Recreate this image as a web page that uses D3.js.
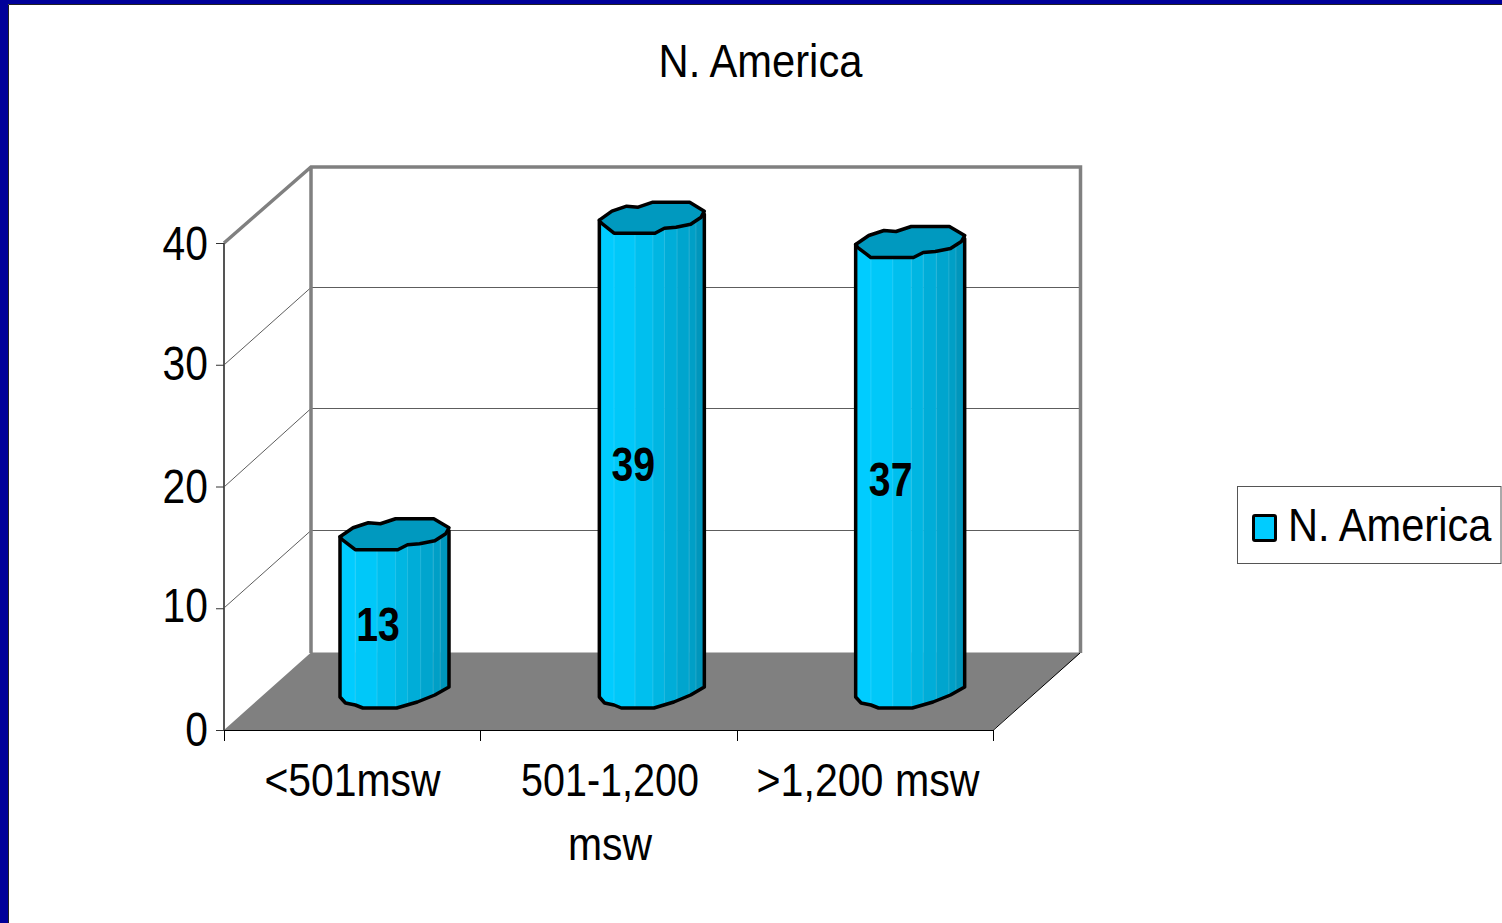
<!DOCTYPE html>
<html><head><meta charset="utf-8">
<script src="https://cdn.jsdelivr.net/npm/d3@7/dist/d3.min.js"></script>
<style>html,body{margin:0;padding:0;background:#fff}svg{display:block}text{font-family:"Liberation Sans",Arial,sans-serif;fill:#000}</style>
</head><body><svg id="c" width="1502" height="923"></svg>
<script>
const titleText = "N. America";
const categories = ["<501msw", "501-1,200 msw", ">1,200 msw"];
const categoryLines = [["<501msw"], ["501-1,200", "msw"], [">1,200 msw"]];
const seriesName = "N. America";
const values = [13, 39, 37];
const yTicks = [0, 10, 20, 30, 40];

// Layout
const W = 1502, H = 923, FS = 47, SX = 0.865;
const plot = {left: 224, right: 993, y0: 730, y40: 243, dx: 88, dy: 77};
const barInset = [[116, 225], [119, 224], [119, 228]]; // left/right edges inside each band
const barBottomY = 22; // bar front is set forward from the axis baseline
const BLUE = "#000099", GREY = "#808080", CYAN = "#00CCFF", CAP = "#0099BF";

// Irregular low-poly cylinder outline, fractions of bar width, px offsets from the front rim
const capOutline = [[0,-13],[.12,-22],[.26,-27],[.37,-26],[.51,-31],[.86,-31],[1,-22],[.97,-16],[.87,-9],[.73,-6],[.62,-5],[.53,0],[.14,0],[.02,-10]];
const bottomOutline = [[1,-21],[.87,-13],[.71,-6],[.52,0],[.21,0],[.14,-3],[.05,-5],[0,-11]];
const facets = [[0,.14,"#00CCFF"],[.14,.34,"#00C8F9"],[.34,.51,"#00BFEE"],[.51,.62,"#00B6E2"],[.62,.74,"#00ADD8"],[.74,.855,"#00A5CE"],[.855,.92,"#009FC6"],[.92,1,"#0096BC"]];

const svg = d3.select("#c");
svg.append("rect").attr("width", W).attr("height", H).attr("fill", BLUE);
svg.append("rect").attr("x", 8).attr("y", 4).attr("width", W - 8).attr("height", H - 4).attr("fill", "#fff");
svg.append("path").attr("d", "M8.5,923V4.5H1502").attr("fill", "none").attr("stroke", "#222").attr("stroke-width", 1);

const x = d3.scaleBand().domain(categories).range([plot.left, plot.right]);
const y = d3.scaleLinear().domain([0, 40]).range([plot.y0, plot.y40]);
const L = plot.left, R = plot.right, dx = plot.dx, dy = plot.dy;

// Floor
svg.append("path").attr("fill", GREY)
  .attr("d", `M${L},${y(0)}L${L+dx-1},${y(0)-dy-.5}H${R+dx}L${R},${y(0)}Z`);

// Gridlines on back and side walls
const grid = svg.append("g").attr("stroke", "#333").attr("stroke-width", .8).attr("fill", "none");
yTicks.filter(t => t > 0 && t < 40).forEach(t => {
  const yy = Math.round(y(t));
  grid.append("path").attr("d", `M${L},${yy}L${L+dx-1},${yy-dy-.5+(t===20?-1:0)}H${R+dx}`);
});

// Walls
svg.append("path").attr("fill", "none").attr("stroke", GREY).attr("stroke-width", 3.5)
  .attr("d", `M${L},${y(40)}L${L+dx-1},${y(40)-dy+1}H${R+dx-.5}V${y(0)-dy}M${L+dx-1},${y(40)-dy}V${y(0)-dy}`);
svg.append("path").attr("fill", "none").attr("stroke", "#555").attr("stroke-width", 2)
  .attr("d", `M${L},${y(40)}V${y(0)}`);
svg.append("path").attr("fill", "none").attr("stroke", "#000").attr("stroke-width", 1)
  .attr("d", `M${L},${y(0)+.5}H${R}L${R+dx-1},${y(0)-dy}`);

// Axes
function sq(sel, tx, ty, sx) { return sel.attr("transform", `translate(${tx},${ty}) scale(${sx || SX},1)`); }
const yAxis = svg.append("g").attr("transform", `translate(${L},0)`)
  .call(d3.axisLeft(y).tickValues(yTicks).tickSize(8).tickPadding(0));
yAxis.select(".domain").remove();
yAxis.selectAll("line").attr("stroke", "#333");
const tickNudge = [-1, -3, 0, -1, 0];
yAxis.selectAll("text").attr("font-size", FS + 1).attr("text-anchor", "end").attr("dy", null).attr("x", 0).attr("y", 0)
  .each(function(d, i){ sq(d3.select(this), -16, 16 + tickNudge[i], 0.85); });

const xAxis = svg.append("g").attr("transform", `translate(0,${y(0)})`)
  .call(d3.axisBottom(x).tickSize(0).tickFormat(""));
xAxis.select(".domain").remove();
xAxis.selectAll(".tick").remove();
const edges = categories.map(c => x(c)).concat([R]);
svg.append("g").selectAll("line").data(edges).join("line")
  .attr("x1", d => Math.round(d) + .5).attr("x2", d => Math.round(d) + .5)
  .attr("y1", y(0)).attr("y2", y(0) + 11).attr("stroke", "#000");

const labelCentres = [352.5, 610, 868], labelBase = 796, labelLead = 64;
const labelSX = [[0.87], [0.84, 0.87], [0.875]];
categoryLines.forEach((lines, i) => lines.forEach((s, j) => {
  sq(svg.append("text").attr("font-size", FS).attr("text-anchor", "middle").text(s), labelCentres[i], labelBase + j * labelLead, labelSX[i][j]);
}));

// Bars
const defs = svg.append("defs");
const bars = categories.map((c, i) => {
  const xl = x(c) + barInset[i][0], xr = x(c) + barInset[i][1];
  return {c, i, v: values[i], xl, w: xr - xl, top: y(values[i]) - barBottomY, bot: y(0) - barBottomY};
});
const pts = (arr, b, base) => arr.map(p => [b.xl + p[0] * b.w, base + p[1]]);
const line = d3.line();
bars.forEach(b => {
  const capPts = pts(capOutline, b, b.top);
  const rightTop = [b.xl + b.w, b.top - 19];
  const body = [[b.xl, b.top - 13], rightTop, ...pts(bottomOutline, b, b.bot)];
  const g = svg.append("g");
  const id = "clip" + b.i;
  defs.append("clipPath").attr("id", id).append("path").attr("d", line(body) + "Z");
  const fg = g.append("g").attr("clip-path", `url(#${id})`);
  fg.selectAll("rect").data(facets).join("rect")
    .attr("x", f => b.xl + f[0] * b.w).attr("width", f => (f[1] - f[0]) * b.w + .5)
    .attr("y", b.top - 35).attr("height", b.bot - b.top + 40).attr("fill", f => f[2]);
  fg.selectAll("line").data(facets.slice(1)).join("line")
    .attr("x1", f => b.xl + f[0] * b.w).attr("x2", f => b.xl + f[0] * b.w)
    .attr("y1", b.top - 35).attr("y2", b.bot + 5).attr("stroke", "#fff").attr("stroke-opacity", .14);
  g.append("path").attr("d", line(body) + "Z").attr("fill", "none").attr("stroke", "#000").attr("stroke-width", 3.5).attr("stroke-linejoin", "round");
  g.append("path").attr("d", line(capPts) + "Z").attr("fill", CAP).attr("stroke", "#000").attr("stroke-width", 3.5).attr("stroke-linejoin", "round");
});

// Data labels
const labelDX = [38, 34, 35], labelDY = [-10, -12, -9];
bars.forEach(b => {
  sq(svg.append("text").attr("font-size", 49).attr("font-weight", "bold").attr("text-anchor", "middle").text(b.v),
     b.xl + labelDX[b.i], y(b.v / 2) + labelDY[b.i], 0.8);
});

// Title
sq(svg.append("text").attr("font-size", FS).attr("text-anchor", "middle").text(titleText), 760.5, 77, 0.887);

// Legend
svg.append("rect").attr("x", 1237.5).attr("y", 486.5).attr("width", 263.5).attr("height", 77).attr("fill", "#fff").attr("stroke", "#555");
svg.append("rect").attr("x", 1253.5).attr("y", 515.5).attr("width", 22).attr("height", 25).attr("rx", 1.5).attr("fill", CYAN).attr("stroke", "#000").attr("stroke-width", 3);
sq(svg.append("text").attr("font-size", FS).text(seriesName), 1288, 541, 0.885);
</script></body></html>
